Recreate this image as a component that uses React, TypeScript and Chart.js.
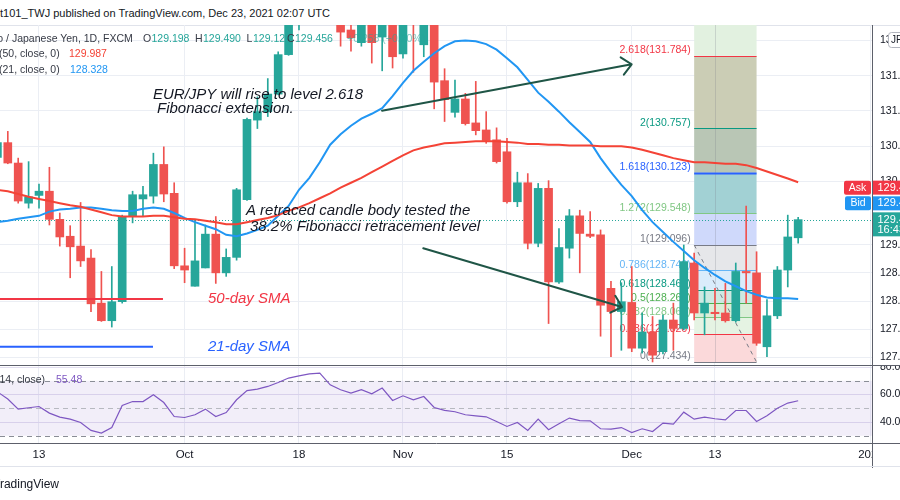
import { useEffect, useRef } from "react";
import { Chart, registerables } from "chart.js";

Chart.register(...registerables);

const FONT = "'Liberation Sans', Arial, sans-serif";

// ---- data ----
const dates = [
  "2021-09-07", "2021-09-08", "2021-09-09", "2021-09-10",
  "2021-09-13", "2021-09-14", "2021-09-15", "2021-09-16", "2021-09-17",
  "2021-09-20", "2021-09-21", "2021-09-22", "2021-09-23", "2021-09-24",
  "2021-09-27", "2021-09-28", "2021-09-29", "2021-09-30", "2021-10-01",
  "2021-10-04", "2021-10-05", "2021-10-06", "2021-10-07", "2021-10-08",
  "2021-10-11", "2021-10-12", "2021-10-13", "2021-10-14", "2021-10-15",
  "2021-10-18", "2021-10-19", "2021-10-20", "2021-10-21", "2021-10-22",
  "2021-10-25", "2021-10-26", "2021-10-27", "2021-10-28", "2021-10-29",
  "2021-11-01", "2021-11-02", "2021-11-03", "2021-11-04", "2021-11-05",
  "2021-11-08", "2021-11-09", "2021-11-10", "2021-11-11", "2021-11-12",
  "2021-11-15", "2021-11-16", "2021-11-17", "2021-11-18", "2021-11-19",
  "2021-11-22", "2021-11-23", "2021-11-24", "2021-11-25", "2021-11-26",
  "2021-11-29", "2021-11-30", "2021-12-01", "2021-12-02", "2021-12-03",
  "2021-12-06", "2021-12-07", "2021-12-08", "2021-12-09", "2021-12-10",
  "2021-12-13", "2021-12-14", "2021-12-15", "2021-12-16", "2021-12-17",
  "2021-12-20", "2021-12-21", "2021-12-22", "2021-12-23",
];

const opens = [
  130.34, 130.55, 130.26, 129.69,
  129.80, 129.86, 129.46, 129.22, 129.08,
  128.91, 128.27, 128.02, 128.29, 129.50,
  129.75, 129.79, 130.24, 129.83, 128.80,
  128.51, 128.77, 129.25, 128.70, 128.92,
  129.74, 130.87, 130.99, 131.24, 131.80,
  132.40, 132.90, 133.30, 132.90, 132.45,
  132.15, 131.97, 132.35, 132.05, 132.40,
  131.81, 132.35, 131.94, 132.30, 131.43,
  130.98, 131.17, 130.83, 130.73, 130.59,
  130.42, 129.71, 129.98, 129.12, 129.90,
  128.57, 129.05, 129.51, 129.25, 129.24,
  128.48, 128.15, 128.28, 127.63, 127.86,
  127.58, 128.03, 127.91, 128.84, 128.13,
  128.14, 128.13, 128.02, 128.72, 128.70,
  127.65, 128.09, 128.74, 129.198,
];
const highs = [
  130.70, 130.71, 130.33, 130.28,
  129.96, 130.20, 129.55, 129.37, 129.70,
  129.03, 128.72, 128.79, 129.52, 129.86,
  129.93, 130.40, 130.49, 129.98, 129.05,
  129.45, 129.38, 129.50, 129.04, 129.90,
  130.90, 131.20, 131.46, 131.84, 132.50,
  133.00, 133.40, 133.48, 133.00, 132.60,
  132.30, 132.45, 132.40, 132.50, 132.50,
  132.50, 132.45, 132.40, 132.40, 131.60,
  131.44, 131.25, 131.42, 130.99, 130.76,
  130.61, 130.13, 130.11, 129.97, 130.01,
  129.33, 129.60, 129.59, 129.57, 129.31,
  128.58, 128.56, 128.79, 128.13, 128.08,
  128.10, 128.27, 129.096, 128.98, 128.50,
  128.48, 128.55, 128.84, 129.65, 129.00,
  128.32, 128.79, 129.52, 129.490,
];
const lows = [
  130.30, 130.25, 129.69, 129.62,
  129.62, 129.38, 129.08, 128.63, 128.79,
  128.15, 128.01, 127.93, 128.27, 129.41,
  129.50, 129.69, 129.71, 128.76, 128.56,
  128.51, 128.77, 128.55, 128.65, 128.88,
  129.73, 130.75, 130.92, 131.23, 131.79,
  132.15, 132.60, 132.70, 132.30, 131.92,
  131.85, 131.92, 131.68, 131.57, 131.61,
  131.75, 131.55, 131.77, 131.03, 130.85,
  130.91, 130.80, 130.66, 130.54, 130.26,
  129.69, 129.64, 129.04, 129.07, 127.98,
  128.55, 128.91, 128.70, 129.20, 127.80,
  127.51, 127.60, 127.58, 127.56, 127.434,
  127.55, 127.60, 127.89, 128.03, 127.82,
  128.03, 128.00, 128.00, 128.27, 127.67,
  127.51, 128.05, 128.50, 129.121,
];
const closes = [
  130.55, 130.26, 129.72, 129.78,
  129.86, 129.46, 129.21, 129.07, 128.87,
  128.26, 128.02, 128.29, 129.50, 129.81,
  129.81, 130.24, 129.82, 128.80, 128.74,
  128.87, 129.25, 128.70, 128.92, 129.88,
  130.88, 130.99, 131.24, 131.80, 132.35,
  132.90, 133.30, 132.90, 132.45, 132.12,
  132.04, 132.35, 131.97, 132.30, 131.77,
  132.35, 132.25, 132.30, 131.41, 131.16,
  131.17, 130.82, 130.72, 130.58, 130.28,
  129.71, 129.98, 129.12, 129.90, 128.57,
  129.06, 129.51, 129.26, 129.22, 128.24,
  128.15, 128.29, 127.63, 127.86, 127.53,
  128.03, 127.91, 128.86, 128.13, 128.27,
  128.12, 128.02, 128.72, 128.70, 127.70,
  128.09, 128.74, 129.21, 129.456,
];
const sma50 = [
  129.88, 129.86, 129.82, 129.78, 129.75, 129.72, 129.69, 129.66, 129.64, 129.60,
  129.56, 129.52, 129.50, 129.50, 129.50, 129.51, 129.51, 129.49, 129.47, 129.46,
  129.44, 129.42, 129.39, 129.39, 129.42, 129.45, 129.48, 129.52, 129.58, 129.63,
  129.69, 129.76, 129.83, 129.91, 129.98, 130.05, 130.13, 130.21, 130.29, 130.37,
  130.44, 130.48, 130.51, 130.54, 130.55, 130.56, 130.57, 130.57, 130.57, 130.56,
  130.55, 130.53, 130.53, 130.52, 130.52, 130.51, 130.51, 130.51, 130.50, 130.50,
  130.50, 130.48, 130.45, 130.41, 130.37, 130.33, 130.30, 130.27, 130.27, 130.26,
  130.25, 130.25, 130.23, 130.19, 130.14, 130.09, 130.04, 129.987,
];
const sma21 = [
  129.42, 129.44, 129.47, 129.49, 129.51, 129.57, 129.60, 129.61, 129.63, 129.63,
  129.61, 129.59, 129.58, 129.58, 129.61, 129.63, 129.61, 129.55, 129.48, 129.42,
  129.37, 129.32, 129.24, 129.22, 129.26, 129.31, 129.37, 129.51, 129.65, 129.88,
  130.05, 130.27, 130.52, 130.67, 130.79, 130.89, 130.96, 131.04, 131.21, 131.40,
  131.57, 131.70, 131.82, 131.92, 131.99, 132.00, 131.99, 131.95, 131.87, 131.75,
  131.62, 131.44, 131.26, 131.13, 130.99, 130.84, 130.70, 130.56, 130.33, 130.13,
  129.95, 129.79, 129.59, 129.42, 129.28, 129.14, 129.01, 128.88, 128.77, 128.67,
  128.58, 128.51, 128.44, 128.39, 128.35, 128.34, 128.34, 128.328,
];
const rsi14 = [
  62.0, 56.7, 49.4, 50.4, 51.3, 46.5, 43.6, 42.1, 39.7, 33.9,
  32.0, 36.0, 52.0, 54.9, 54.9, 59.8, 54.2, 44.0, 43.3, 45.3,
  49.4, 44.0, 46.9, 56.2, 62.9, 64.0, 65.9, 68.8, 72.0, 73.6,
  75.1, 75.6, 67.1, 63.5, 61.1, 63.5, 60.5, 64.7, 55.7, 59.1,
  56.2, 58.6, 50.6, 48.5, 47.5, 45.3, 44.5, 43.8, 40.4, 36.8,
  39.7, 33.9, 42.1, 34.4, 38.7, 42.9, 41.1, 40.9, 35.1, 34.9,
  36.0, 32.4, 35.1, 33.1, 39.2, 38.5, 47.2, 42.1, 43.6, 42.4,
  41.6, 48.4, 48.4, 40.4, 44.5, 50.1, 53.8, 55.48,
];

// axis ticks
const xTickIndex = [4, 18, 29, 39, 49, 61, 69, 84];
const xTickLabels = ["13", "Oct", "18", "Nov", "15", "Dec", "13", "2022"];
const priceTicks = [127.5, 127.9, 128.3, 128.7, 129.1, 130.0, 130.5, 131.0, 131.5, 132.0];
const rsiTicks = [40, 60, 80];

// Fibonacci drawing
const fibLevels = ["0", "0.236", "0.382", "0.5", "0.618", "0.786", "1", "1.272", "1.618", "2", "2.618"];
const fibPrices = [127.434, 127.826, 128.069, 128.265, 128.461, 128.74, 129.096, 129.548, 130.123, 130.757, 131.784];
const fibLineColors = ["#787b86", "#f23645", "#81c784", "#4caf50", "#089981", "#64b5f6", "#787b86", "#81c784", "#2962ff", "#089981", "#f23645"];
const fibFillColors = ["#fbd9da", "#e5f3e3", "#daeed8", "#cde9e2", "#daecfb", "#e6e7ea", "#cfd9fb", "#a2d1d4", "#b9c6b5", "#cbcdb5", "#e2f1e0"];
const fibStartIndex = 67;
const fibEndIndex = 73;

// annotations (anchors in bar-index / price space)
const noteTexts = ["EUR/JPY will rise to level 2.618", "Fibonacci extension.", "A retraced candle body tested the", "38.2% Fibonacci retracement level"];
const noteIndex = [14.96, 15.35, 23.9, 24.29];
const notePrice = [131.227, 131.028, 129.579, 129.356];
const arrowFrom = [[36.98, 131.004], [40.95, 129.049]];
const arrowTo = [[60.99, 131.663], [60.06, 128.215]];
const smaNoteTexts = ["50-day SMA", "21-day SMA"];
const smaNotePrice = [128.33, 127.651];
const smaNoteLineEnd = [15.92, 14.96];
const smaNoteLabelIndex = 20.25;

const lastClose = 129.456;
const askPrice = 129.468;
const bidPrice = 129.456;
const countdown = "16:43:51";

const GREEN = "#26a69a";
const RED = "#ef5350";
const GRID = "#ebeef4";
const AXIS = "#5d606b";

function arrow(ctx: CanvasRenderingContext2D, x1: number, y1: number, x2: number, y2: number) {
  const a = Math.atan2(y2 - y1, x2 - x1);
  ctx.beginPath();
  ctx.moveTo(x1, y1);
  ctx.lineTo(x2, y2);
  for (const d of [2.4, -2.4]) {
    ctx.moveTo(x2, y2);
    ctx.lineTo(x2 + 13 * Math.cos(a + d), y2 + 13 * Math.sin(a + d));
  }
  ctx.stroke();
}

function rrect(ctx: CanvasRenderingContext2D, x: number, y: number, w: number, h: number, r: number) {
  ctx.beginPath();
  ctx.moveTo(x + r, y);
  ctx.lineTo(x + w - r, y);
  ctx.quadraticCurveTo(x + w, y, x + w, y + r);
  ctx.lineTo(x + w, y + h - r);
  ctx.quadraticCurveTo(x + w, y + h, x + w - r, y + h);
  ctx.lineTo(x + r, y + h);
  ctx.quadraticCurveTo(x, y + h, x, y + h - r);
  ctx.lineTo(x, y + r);
  ctx.quadraticCurveTo(x, y, x + r, y);
  ctx.closePath();
}

const mainOverlay = {
  id: "mainOverlay",
  beforeDatasetsDraw(chart: any) {
    const { ctx, chartArea: a, scales } = chart;
    const x = scales.x, y = scales.y;
    ctx.save();
    ctx.beginPath();
    ctx.rect(a.left, a.top, a.right - a.left, a.bottom - a.top);
    ctx.clip();

    // fib bands
    const x0 = x.getPixelForValue(fibStartIndex);
    const x1 = x.getPixelForValue(fibEndIndex);
    for (let i = 0; i < fibPrices.length; i++) {
      const yb = y.getPixelForValue(fibPrices[i]);
      const yt = i < fibPrices.length - 1 ? y.getPixelForValue(fibPrices[i + 1]) : a.top;
      ctx.fillStyle = fibFillColors[i];
      ctx.fillRect(x0, yt, x1 - x0, yb - yt);
    }
    // grid lines visible through the box
    ctx.strokeStyle = "rgba(120,123,134,0.25)";
    ctx.lineWidth = 1;
    xTickIndex.forEach((v) => {
      if (v > fibStartIndex && v < fibEndIndex) {
        const px = Math.round(x.getPixelForValue(v)) + 0.5;
        ctx.beginPath();
        ctx.moveTo(px, a.top);
        ctx.lineTo(px, y.getPixelForValue(fibPrices[0]));
        ctx.stroke();
      }
    });
    // level lines
    for (let i = 0; i < fibPrices.length; i++) {
      const py = Math.round(y.getPixelForValue(fibPrices[i])) + 0.5;
      ctx.strokeStyle = fibLineColors[i];
      ctx.lineWidth = fibLevels[i] === "1.618" ? 2 : 1.2;
      ctx.beginPath();
      ctx.moveTo(x0, py);
      ctx.lineTo(x1, py);
      ctx.stroke();
    }
    // dashed trend line
    ctx.setLineDash([4, 4]);
    ctx.strokeStyle = "#787b86";
    ctx.lineWidth = 1;
    ctx.beginPath();
    ctx.moveTo(x0, y.getPixelForValue(fibPrices[6]));
    ctx.lineTo(x1, y.getPixelForValue(fibPrices[0]));
    ctx.stroke();
    ctx.setLineDash([]);
    // labels
    ctx.font = `10.5px ${FONT}`;
    ctx.textAlign = "right";
    ctx.textBaseline = "alphabetic";
    for (let i = 0; i < fibPrices.length; i++) {
      ctx.fillStyle = fibLineColors[i];
      ctx.fillText(`${fibLevels[i]}(${fibPrices[i].toFixed(3)})`, x0 - 3.5, y.getPixelForValue(fibPrices[i]) - 2.5);
    }

    // current price dotted line
    const cy = Math.round(y.getPixelForValue(lastClose)) + 0.5;
    ctx.strokeStyle = GREEN;
    ctx.setLineDash([1, 2]);
    ctx.beginPath();
    ctx.moveTo(a.left, cy);
    ctx.lineTo(a.right, cy);
    ctx.stroke();
    ctx.setLineDash([]);
    ctx.restore();
  },
  afterDatasetsDraw(chart: any) {
    const { ctx, chartArea: a, scales } = chart;
    const x = scales.x, y = scales.y;
    ctx.save();
    ctx.beginPath();
    ctx.rect(a.left, a.top, a.right - a.left, a.bottom - a.top);
    ctx.clip();
    // SMA marker lines & labels
    const smaColors = ["#f23645", "#2962ff"];
    for (let i = 0; i < 2; i++) {
      const py = y.getPixelForValue(smaNotePrice[i]);
      ctx.strokeStyle = smaColors[i];
      ctx.lineWidth = 2;
      ctx.beginPath();
      ctx.moveTo(x.getPixelForValue(-1), py);
      ctx.lineTo(x.getPixelForValue(smaNoteLineEnd[i]), py);
      ctx.stroke();
      ctx.font = `italic 15px ${FONT}`;
      ctx.fillStyle = smaColors[i];
      ctx.textAlign = "left";
      ctx.textBaseline = "middle";
      ctx.fillText(smaNoteTexts[i], x.getPixelForValue(smaNoteLabelIndex), py);
    }
    // notes
    ctx.font = `italic 15px ${FONT}`;
    ctx.fillStyle = "#131722";
    ctx.textAlign = "left";
    ctx.textBaseline = "middle";
    noteTexts.forEach((t, i) => {
      ctx.fillText(t, x.getPixelForValue(noteIndex[i]), y.getPixelForValue(notePrice[i]));
    });
    // arrows
    ctx.strokeStyle = "#1f5546";
    ctx.lineWidth = 2;
    ctx.lineCap = "round";
    for (let i = 0; i < arrowFrom.length; i++) {
      arrow(
        ctx,
        x.getPixelForValue(arrowFrom[i][0]), y.getPixelForValue(arrowFrom[i][1]),
        x.getPixelForValue(arrowTo[i][0]), y.getPixelForValue(arrowTo[i][1])
      );
    }
    ctx.restore();
  },
  afterDraw(chart: any) {
    const { ctx, scales } = chart;
    const y = scales.y;
    const cy = y.getPixelForValue(lastClose);
    ctx.save();
    ctx.font = `10.5px ${FONT}`;
    ctx.textBaseline = "middle";
    // Ask
    ctx.fillStyle = "#f23645";
    rrect(ctx, 844, cy - 39, 27, 14, 2);
    ctx.fill();
    ctx.fillRect(873, cy - 39, 27, 14);
    // Bid
    ctx.fillStyle = "#2196f3";
    rrect(ctx, 845, cy - 23.3, 26, 14, 2);
    ctx.fill();
    ctx.fillRect(873, cy - 23.3, 27, 14);
    // last price
    ctx.fillStyle = GREEN;
    ctx.fillRect(873, cy - 7.3, 27, 24);
    ctx.fillStyle = "#ffffff";
    ctx.textAlign = "center";
    ctx.fillText("Ask", 857.5, cy - 32);
    ctx.fillText("Bid", 858, cy - 16.3);
    ctx.textAlign = "left";
    ctx.font = `11px ${FONT}`;
    ctx.fillText(askPrice.toFixed(3), 877.5, cy - 32);
    ctx.fillText(bidPrice.toFixed(3), 877.5, cy - 16.3);
    ctx.fillText(lastClose.toFixed(3), 877.5, cy + 0.5);
    ctx.fillText(countdown, 877.5, cy + 10.5);
    // currency badge
    ctx.fillStyle = "#ffffff";
    ctx.strokeStyle = "#b2b5be";
    ctx.lineWidth = 1;
    rrect(ctx, 888.5, 7.5, 16, 15, 3);
    ctx.fill();
    ctx.stroke();
    ctx.fillStyle = "#131722";
    ctx.font = `10px ${FONT}`;
    ctx.fillText("JPY", 891, 15);
    ctx.restore();
  },
};

const rsiOverlay = {
  id: "rsiOverlay",
  beforeDatasetsDraw(chart: any) {
    const { ctx, chartArea: a, scales } = chart;
    const y = scales.y;
    const y70 = y.getPixelForValue(70);
    const y30 = y.getPixelForValue(30);
    const y50 = y.getPixelForValue(50);
    ctx.save();
    ctx.fillStyle = "rgba(126,87,194,0.1)";
    ctx.fillRect(a.left, y70, a.right - a.left, y30 - y70);
    ctx.setLineDash([5, 4]);
    ctx.lineWidth = 1;
    ctx.strokeStyle = "#8a8d96";
    for (const py of [y70, y30]) {
      ctx.beginPath();
      ctx.moveTo(a.left, Math.round(py) + 0.5);
      ctx.lineTo(a.right, Math.round(py) + 0.5);
      ctx.stroke();
    }
    ctx.strokeStyle = "#b7b9c0";
    ctx.beginPath();
    ctx.moveTo(a.left, Math.round(y50) + 0.5);
    ctx.lineTo(a.right, Math.round(y50) + 0.5);
    ctx.stroke();
    ctx.restore();
  },
  afterDraw(chart: any) {
    const { ctx, chartArea: a, width, height } = chart;
    ctx.save();
    // hide x labels under price-scale column
    ctx.fillStyle = "#ffffff";
    ctx.fillRect(a.right + 1, a.bottom + 1, width - a.right, height - a.bottom - 2);
    ctx.strokeStyle = AXIS;
    ctx.lineWidth = 1;
    ctx.beginPath();
    ctx.moveTo(0, 0.5);
    ctx.lineTo(width, 0.5);
    ctx.moveTo(Math.round(a.right) + 0.5, a.bottom);
    ctx.lineTo(Math.round(a.right) + 0.5, height);
    ctx.moveTo(a.right, Math.round(a.bottom) + 0.5);
    ctx.lineTo(width, Math.round(a.bottom) + 0.5);
    ctx.stroke();
    ctx.strokeStyle = "#e0e3eb";
    ctx.beginPath();
    ctx.moveTo(0, height - 1.5);
    ctx.lineTo(width, height - 1.5);
    ctx.stroke();
    ctx.restore();
  },
};

export default function App() {
  const mainRef = useRef<HTMLCanvasElement>(null);
  const rsiRef = useRef<HTMLCanvasElement>(null);

  useEffect(() => {
    Chart.defaults.font.family = FONT;
    Chart.defaults.color = "#131722";
    const bodyColors = closes.map((c, k) => (c >= opens[k] ? GREEN : RED));
    const setXTicks = (s: any) => {
      s.ticks = xTickIndex.map((v) => ({ value: v }));
    };

    const main = new Chart(mainRef.current as HTMLCanvasElement, {
      type: "bar",
      data: {
        datasets: [
          {
            type: "bar",
            label: "wicks",
            data: dates.map((_, k) => ({ x: k, y: [lows[k], highs[k]] })) as any,
            backgroundColor: bodyColors,
            barThickness: 1,
            grouped: false,
            borderWidth: 0,
            order: 3,
          } as any,
          {
            type: "bar",
            label: "EUR/JPY",
            data: dates.map((_, k) => ({ x: k, y: [opens[k], closes[k]] })) as any,
            backgroundColor: bodyColors,
            barThickness: 8,
            grouped: false,
            borderWidth: 0,
            minBarLength: 1,
            order: 2,
          } as any,
          {
            type: "line",
            label: "SMA 50",
            data: sma50.map((v, k) => ({ x: k, y: v })),
            borderColor: "#f44336",
            borderWidth: 2,
            pointRadius: 0,
            order: 1,
          } as any,
          {
            type: "line",
            label: "SMA 21",
            data: sma21.map((v, k) => ({ x: k, y: v })),
            borderColor: "#2196f3",
            borderWidth: 2,
            pointRadius: 0,
            order: 1,
          } as any,
        ],
      },
      options: {
        responsive: false,
        maintainAspectRatio: false,
        animation: false,
        events: [],
        layout: { padding: 0 },
        plugins: { legend: { display: false }, tooltip: { enabled: false } },
        scales: {
          x: {
            type: "linear",
            min: 0.25,
            max: 84.1,
            offset: false,
            grid: { color: GRID, drawTicks: false, offset: false },
            border: { display: false },
            ticks: { display: false },
            afterBuildTicks: setXTicks,
            afterFit: (s: any) => {
              s.height = 0;
              s.paddingLeft = 0;
              s.paddingRight = 0;
            },
          } as any,
          y: {
            type: "linear",
            position: "right",
            min: 127.391,
            max: 132.221,
            beginAtZero: false,
            grid: { color: GRID, drawTicks: false },
            border: { display: true, color: AXIS },
            ticks: {
              padding: 8,
              autoSkip: false,
              font: { size: 10.5 },
              color: "#131722",
              callback: (v: any) => Number(v).toFixed(3),
            },
            afterBuildTicks: (s: any) => {
              s.ticks = priceTicks.map((v) => ({ value: v }));
            },
            afterFit: (s: any) => {
              s.width = 28;
              s.paddingTop = 0;
              s.paddingBottom = 0;
            },
          } as any,
        },
      },
      plugins: [mainOverlay],
    });

    const rsi = new Chart(rsiRef.current as HTMLCanvasElement, {
      type: "line",
      data: {
        datasets: [
          {
            label: "RSI (14, close)",
            data: rsi14.map((v, k) => ({ x: k, y: v })),
            borderColor: "#7e57c2",
            borderWidth: 1.2,
            pointRadius: 0,
          },
        ],
      },
      options: {
        responsive: false,
        maintainAspectRatio: false,
        animation: false,
        events: [],
        layout: { padding: 0 },
        plugins: { legend: { display: false }, tooltip: { enabled: false } },
        scales: {
          x: {
            type: "linear",
            min: 0.25,
            max: 84.1,
            grid: { color: GRID, drawTicks: false },
            border: { display: true, color: AXIS },
            ticks: {
              autoSkip: false,
              maxRotation: 0,
              padding: 5,
              font: { size: 11.5 },
              color: "#131722",
              callback: (v: any) => xTickLabels[xTickIndex.indexOf(Number(v))] ?? "",
            },
            afterBuildTicks: setXTicks,
            afterFit: (s: any) => {
              s.height = 25;
              s.paddingLeft = 0;
              s.paddingRight = 0;
            },
          } as any,
          y: {
            type: "linear",
            position: "right",
            min: 24.75,
            max: 81.5,
            grid: { color: "#e2def0", drawTicks: false },
            border: { display: true, color: AXIS },
            ticks: {
              padding: 8,
              autoSkip: false,
              font: { size: 10.5 },
              color: "#131722",
              callback: (v: any) => Number(v).toFixed(2),
            },
            afterBuildTicks: (s: any) => {
              s.ticks = rsiTicks.map((v) => ({ value: v }));
            },
            afterFit: (s: any) => {
              s.width = 28;
              s.paddingTop = 0;
              s.paddingBottom = 0;
            },
          } as any,
        },
      },
      plugins: [rsiOverlay],
    });

    return () => {
      main.destroy();
      rsi.destroy();
    };
  }, []);

  const t = (style: any) => ({
    position: "absolute" as const,
    whiteSpace: "nowrap" as const,
    lineHeight: "14px",
    height: 14,
    fontFamily: FONT,
    ...style,
  });
  const lbl = "#363a45";

  return (
    <div
      style={{
        position: "fixed",
        left: 0,
        top: 0,
        width: 900,
        height: 500,
        background: "#ffffff",
        overflow: "hidden",
        fontFamily: FONT,
      }}
    >
      <div style={t({ left: 0, top: 6, fontSize: 11, color: "#131722" })}>
        t101_TWJ published on TradingView.com, Dec 23, 2021 02:07 UTC
      </div>
      <div style={{ position: "absolute", left: 0, top: 25, width: 900, height: 1, background: "#e0e3eb" }} />
      <canvas ref={mainRef} width={900} height={340} style={{ position: "absolute", left: 0, top: 25, width: 900, height: 340 }} />
      <canvas ref={rsiRef} width={900} height={103} style={{ position: "absolute", left: 0, top: 365, width: 900, height: 103 }} />

      <div style={t({ left: -19, top: 31, fontSize: 10.5, color: lbl })}>Euro / Japanese Yen, 1D, FXCM</div>
      <div style={t({ left: 143, top: 31, fontSize: 10.5, color: lbl })}>O</div>
      <div style={t({ left: 151.5, top: 31, fontSize: 10.5, color: GREEN })}>129.198</div>
      <div style={t({ left: 195, top: 31, fontSize: 10.5, color: lbl })}>H</div>
      <div style={t({ left: 203, top: 31, fontSize: 10.5, color: GREEN })}>129.490</div>
      <div style={t({ left: 246.5, top: 31, fontSize: 10.5, color: lbl })}>L</div>
      <div style={t({ left: 253, top: 31, fontSize: 10.5, color: GREEN })}>129.121</div>
      <div style={t({ left: 287, top: 31, fontSize: 10.5, color: lbl })}>C</div>
      <div style={t({ left: 295, top: 31, fontSize: 10.5, color: GREEN })}>129.456</div>
      <div style={t({ left: 347, top: 31, fontSize: 10.5, color: GREEN, opacity: 0.6 })}>+0.258 (+0.20%)</div>

      <div style={t({ left: -1, top: 46, fontSize: 10.5, color: lbl })}>(50, close, 0)</div>
      <div style={t({ left: 69, top: 46, fontSize: 10.5, color: "#f44336" })}>129.987</div>
      <div style={t({ left: -1, top: 62, fontSize: 10.5, color: lbl })}>(21, close, 0)</div>
      <div style={t({ left: 70, top: 62, fontSize: 10.5, color: "#2196f3" })}>128.328</div>

      <div style={t({ left: -4, top: 372, fontSize: 10.5, color: lbl })}>(14, close)</div>
      <div style={t({ left: 56, top: 372, fontSize: 10.5, color: "#7e57c2" })}>55.48</div>

      <div style={t({ left: -7, top: 477, fontSize: 12, color: "#131722" })}>TradingView</div>
    </div>
  );
}
